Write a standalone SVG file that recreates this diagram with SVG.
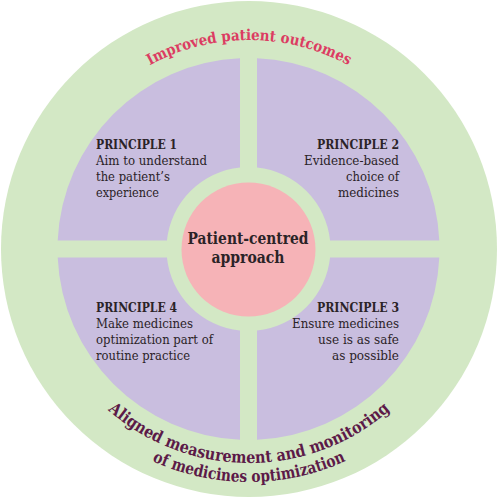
<svg xmlns="http://www.w3.org/2000/svg" width="498" height="498" viewBox="0 0 498 498">
<style>
.green{fill:#d3e8c5}
.quad{fill:#c9bedf}
.pink{fill:#f6b3b7}
.t{font-family:"DejaVu Serif","Liberation Serif",serif;font-size:13px;fill:#2b2327}
.b{font-weight:bold}
.c{font-family:"DejaVu Serif","Liberation Serif",serif;font-size:16.5px;font-weight:bold;fill:#2b2327;text-anchor:middle}
.top{font-family:"DejaVu Serif","Liberation Serif",serif;font-size:15px;font-weight:bold;fill:#dc3c62}
.bot{font-family:"DejaVu Serif","Liberation Serif",serif;font-size:16.5px;font-weight:bold;fill:#5c1a48}
.r{text-anchor:end}
</style>
<defs>
<path id="arcTop" d="M40,249 A209,209 0 0 1 458,249"/>
<path id="arcB1" d="M35,249 A214,214 0 0 0 463,249"/>
<path id="arcB2" d="M16,249 A233,233 0 0 0 482,249"/>
</defs>
<g id="outer">
<circle class="green" cx="249" cy="249" r="248"/>
<text class="top"><textPath href="#arcTop" startOffset="50%" text-anchor="middle" textLength="207" lengthAdjust="spacingAndGlyphs">Improved patient outcomes</textPath></text>
<text class="bot"><textPath href="#arcB1" startOffset="50%" text-anchor="middle" textLength="308" lengthAdjust="spacingAndGlyphs">Aligned measurement and monitoring</textPath></text>
<text class="bot"><textPath href="#arcB2" startOffset="50%" text-anchor="middle" textLength="200" lengthAdjust="spacingAndGlyphs">of medicines optimization</textPath></text>
</g>
<g id="principle1">
<path class="quad" d="M240,58.19 L240,167.44 A82,82 0 0 0 166.94,240.5 L57.69,240.5 A191,191 0 0 1 240,58.19 Z"/>
<text class="t b" x="96" y="149" textLength="81" lengthAdjust="spacingAndGlyphs">PRINCIPLE 1</text>
<text class="t" x="96" y="165" textLength="111" lengthAdjust="spacingAndGlyphs">Aim to understand</text>
<text class="t" x="96" y="181" textLength="74" lengthAdjust="spacingAndGlyphs">the patient’s</text>
<text class="t" x="96" y="197" textLength="63" lengthAdjust="spacingAndGlyphs">experience</text>
</g>
<g id="principle2">
<path class="quad" d="M257,58.19 A191,191 0 0 1 439.31,240.5 L330.06,240.5 A82,82 0 0 0 257,167.44 Z"/>
<text class="t b r" x="399" y="149" textLength="82" lengthAdjust="spacingAndGlyphs">PRINCIPLE 2</text>
<text class="t r" x="399" y="165" textLength="95" lengthAdjust="spacingAndGlyphs">Evidence-based</text>
<text class="t r" x="399" y="181" textLength="53" lengthAdjust="spacingAndGlyphs">choice of</text>
<text class="t r" x="399" y="197" textLength="61" lengthAdjust="spacingAndGlyphs">medicines</text>
</g>
<g id="principle3">
<path class="quad" d="M439.31,257.5 A191,191 0 0 1 257,439.81 L257,330.56 A82,82 0 0 0 330.06,257.5 Z"/>
<text class="t b r" x="399" y="312" textLength="82" lengthAdjust="spacingAndGlyphs">PRINCIPLE 3</text>
<text class="t r" x="399" y="328" textLength="107" lengthAdjust="spacingAndGlyphs">Ensure medicines</text>
<text class="t r" x="399" y="344" textLength="81" lengthAdjust="spacingAndGlyphs">use is as safe</text>
<text class="t r" x="399" y="360" textLength="67" lengthAdjust="spacingAndGlyphs">as possible</text>
</g>
<g id="principle4">
<path class="quad" d="M240,439.81 A191,191 0 0 1 57.69,257.5 L166.94,257.5 A82,82 0 0 0 240,330.56 Z"/>
<text class="t b" x="96" y="312" textLength="81" lengthAdjust="spacingAndGlyphs">PRINCIPLE 4</text>
<text class="t" x="96" y="328" textLength="97" lengthAdjust="spacingAndGlyphs">Make medicines</text>
<text class="t" x="96" y="344" textLength="117" lengthAdjust="spacingAndGlyphs">optimization part of</text>
<text class="t" x="96" y="360" textLength="94" lengthAdjust="spacingAndGlyphs">routine practice</text>
</g>
<g id="centre">
<circle class="pink" cx="248.5" cy="249.5" r="67"/>
<text class="c" x="248" y="244" textLength="121" lengthAdjust="spacingAndGlyphs">Patient-centred</text>
<text class="c" x="248" y="263" textLength="73" lengthAdjust="spacingAndGlyphs">approach</text>
</g>
<g id="connectors"/>
</svg>
